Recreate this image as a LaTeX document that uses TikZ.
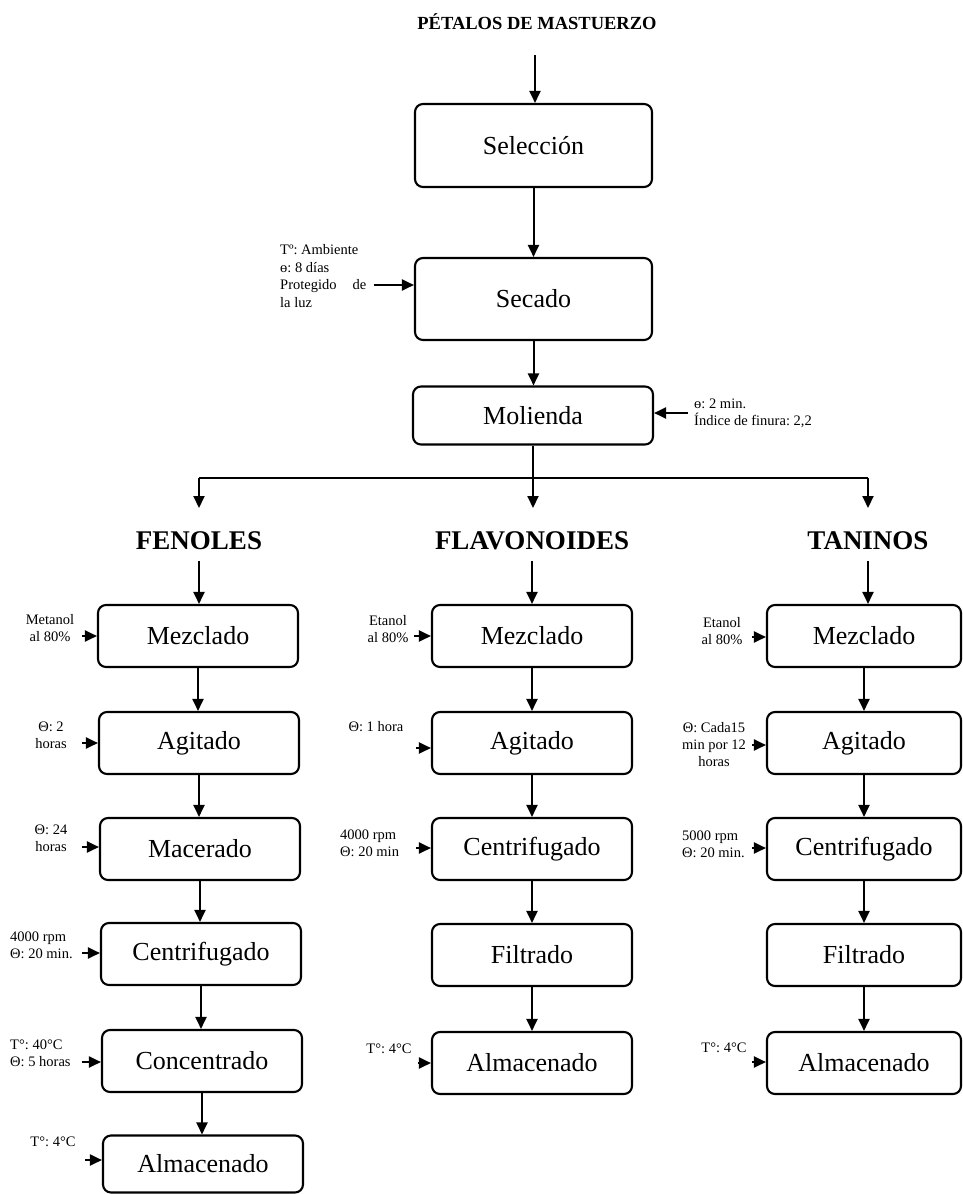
\documentclass[tikz,border=0pt]{standalone}
\usepackage{fontspec}
\setmainfont{Liberation Serif}
\usetikzlibrary{arrows.meta}
\frenchspacing
\begin{document}
\begin{tikzpicture}[x=1pt,y=-1pt,
  proc/.style={draw, line width=2.1pt, rounded corners=8pt, minimum width=200pt, minimum height=62pt, inner sep=0pt, font=\fontsize{26}{30}\selectfont},
  head/.style={font=\fontsize{27}{30}\selectfont\bfseries, inner sep=0pt},
  note/.style={font=\fontsize{14.5}{17}\selectfont, inner sep=0pt},
  arr/.style={line width=2pt, -{Triangle[length=12pt,width=11pt]}},
  ln/.style={line width=2pt}
]
\useasboundingbox (0,0) rectangle (963,1194);

% top chain
\node[font=\fontsize{18.5}{20}\selectfont\bfseries] (title) at (537,22) {PÉTALOS DE MASTUERZO};
\node[proc, minimum width=237pt, minimum height=83pt] (sel) at (533.5,145.5) {Selección};
\node[proc, minimum width=237pt, minimum height=82pt] (sec) at (533.5,299) {Secado};
\node[proc, minimum width=240pt, minimum height=58pt] (mol) at (533,415.5) {Molienda};

\coordinate (t0) at (535,55);
\draw[arr] (t0) -- (t0 |- sel.north);
\draw[arr] (sel.south) -- (sec.north);
\draw[arr] (sec.south) -- (sec.south |- mol.north);

\node[note, anchor=west, align=left, font=\fontsize{14.5}{17.5}\selectfont] (secn) at (280,276)
  {Tº: Ambiente\\ɵ: 8 días\\Protegido\hspace{1.1em}de\\la luz};
\coordinate (secs) at (374,285);
\draw[arr] (secs) -- (secs -| sec.west);

\node[note, anchor=west, align=left] (moln) at (694,413) {ɵ: 2 min.\\Índice de finura: 2,2};
\coordinate (mols) at (688,413);
\draw[arr] (mols) -- (mols -| mol.east);

% branching
\coordinate (br) at (533,478);
\coordinate (bl) at (199,478);
\coordinate (bc) at (533,478);
\coordinate (bt) at (868,478);
\draw[ln] (mol.south) -- (br);
\draw[ln] (bl) -- (bt);
\draw[arr] (bl) -- ++(0,30);
\draw[arr] (bc) -- ++(0,30);
\draw[arr] (bt) -- ++(0,30);

\node[head] (fen) at (199,541) {FENOLES};
\node[head] (fla) at (532,541) {FLAVONOIDES};
\node[head] (tan) at (868,541) {TANINOS};

% FENOLES column
\node[proc] (f1) at (198,636) {Mezclado};
\node[proc] (f2) at (199,743) {Agitado};
\node[proc] (f3) at (200,849) {Macerado};
\node[proc] (f4) at (201,954) {Centrifugado};
\node[proc] (f5) at (202,1061) {Concentrado};
\node[proc, minimum height=57pt] (f6) at (203,1164) {Almacenado};

\coordinate (fa) at (199,561);
\draw[arr] (fa) -- (fa |- f1.north);
\draw[arr] (f1.south) -- (f1.south |- f2.north);
\draw[arr] (f2.south) -- (f2.south |- f3.north);
\draw[arr] (f3.south) -- (f3.south |- f4.north);
\draw[arr] (f4.south) -- (f4.south |- f5.north);
\draw[arr] (f5.south) -- (f5.south |- f6.north);

\node[note, align=center] (n1) at (50,628) {Metanol\\al 80\%};
\node[note, align=center] (n2) at (51,735) {Θ: 2\\horas};
\node[note, align=center] (n3) at (51,838) {Θ: 24\\horas};
\node[note, anchor=west, align=left] (n4) at (10,945) {4000 rpm\\Θ: 20 min.};
\node[note, anchor=west, align=left] (n5) at (10,1053) {T°: 40°C\\Θ: 5 horas};
\node[note] (n6) at (53,1142) {T°: 4°C};

\coordinate (a1) at (82,636);
\coordinate (a2) at (82,743);
\coordinate (a3) at (82,847);
\coordinate (a4) at (82,953);
\coordinate (a5) at (82,1062);
\coordinate (a6) at (85,1160);
\draw[arr] (a1) -- (a1 -| f1.west);
\draw[arr] (a2) -- (a2 -| f2.west);
\draw[arr] (a3) -- (a3 -| f3.west);
\draw[arr] (a4) -- (a4 -| f4.west);
\draw[arr] (a5) -- (a5 -| f5.west);
\draw[arr] (a6) -- (a6 -| f6.west);

% FLAVONOIDES column
\node[proc] (g1) at (532,636) {Mezclado};
\node[proc] (g2) at (532,743) {Agitado};
\node[proc] (g3) at (532,849) {Centrifugado};
\node[proc] (g4) at (532,955) {Filtrado};
\node[proc] (g5) at (532,1063) {Almacenado};

\coordinate (ga) at (532,561);
\draw[arr] (ga) -- (g1.north);
\draw[arr] (g1.south) -- (g2.north);
\draw[arr] (g2.south) -- (g3.north);
\draw[arr] (g3.south) -- (g4.north);
\draw[arr] (g4.south) -- (g5.north);

\node[note, align=center] (m1) at (388,629) {Etanol\\al 80\%};
\node[note] (m2) at (376,727) {Θ: 1 hora};
\node[note, anchor=west, align=left] (m3) at (340,843) {4000 rpm\\Θ: 20 min};
\node[note] (m4) at (389,1049) {T°: 4°C};

\coordinate (b1) at (414,636);
\coordinate (b2) at (416,748);
\coordinate (b3) at (416,848);
\coordinate (b4) at (418,1063);
\draw[arr] (b1) -- (b1 -| g1.west);
\draw[arr] (b2) -- (b2 -| g2.west);
\draw[arr] (b3) -- (b3 -| g3.west);
\draw[arr] (b4) -- (b4 -| g5.west);

% TANINOS column
\node[proc, minimum width=194pt] (h1) at (864,636) {Mezclado};
\node[proc, minimum width=194pt] (h2) at (864,743) {Agitado};
\node[proc, minimum width=194pt] (h3) at (864,849) {Centrifugado};
\node[proc, minimum width=194pt] (h4) at (864,955) {Filtrado};
\node[proc, minimum width=194pt] (h5) at (864,1063) {Almacenado};

\coordinate (ha) at (868,561);
\draw[arr] (ha) -- (ha |- h1.north);
\draw[arr] (h1.south) -- (h2.north);
\draw[arr] (h2.south) -- (h3.north);
\draw[arr] (h3.south) -- (h4.north);
\draw[arr] (h4.south) -- (h5.north);

\node[note, align=center] (k1) at (722,631) {Etanol\\al 80\%};
\node[note, align=center] (k2) at (714,745) {Θ: Cada15\\min por 12\\horas};
\node[note, anchor=west, align=left] (k3) at (682,844) {5000 rpm\\Θ: 20 min.};
\node[note] (k4) at (724,1048) {T°: 4°C};

\coordinate (c1) at (752,637);
\coordinate (c2) at (752,745);
\coordinate (c3) at (752,848);
\coordinate (c4) at (752,1062);
\draw[arr] (c1) -- (c1 -| h1.west);
\draw[arr] (c2) -- (c2 -| h2.west);
\draw[arr] (c3) -- (c3 -| h3.west);
\draw[arr] (c4) -- (c4 -| h5.west);
\end{tikzpicture}
\end{document}
